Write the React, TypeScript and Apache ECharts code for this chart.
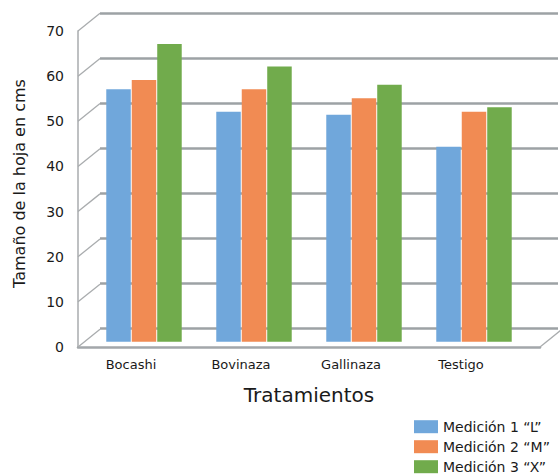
import React, { useEffect, useRef } from "react";
import * as echarts from "echarts";

const categories = ["Bocashi", "Bovinaza", "Gallinaza", "Testigo"];
const seriesNames = ["Medición 1 “L”", "Medición 2 “M”", "Medición 3 “X”"];
const medicion1 = [56, 51, 50.3, 43.2];
const medicion2 = [58, 56, 54, 51];
const medicion3 = [66, 61, 57, 52];
const yTicks = [0, 10, 20, 30, 40, 50, 60, 70];
const colors = ["#70a7db", "#f18b53", "#71ab4c"];

const FONT = "DejaVu Sans";
const DEPTH_X = 22;
const DEPTH_Y = -17.7;

export default function App() {
  const ref = useRef<HTMLDivElement>(null);
  useEffect(() => {
    if (!ref.current) return;
    const chart = echarts.init(ref.current, undefined, { renderer: "svg" });
    const values = [medicion1, medicion2, medicion3];
    const option: any = {
      animation: false,
      backgroundColor: "#ffffff",
      textStyle: { fontFamily: FONT },
      grid: [
        { left: 100, top: 13.3, width: 458, height: 315 },
        { left: 78, top: 31, width: 462, height: 316 },
        { left: 89, top: 26, width: 440, height: 315.7 },
        { left: 76, top: 31, width: 440, height: 316 },
      ],
      xAxis: [
        { gridIndex: 0, type: "category", data: categories, show: false },
        {
          gridIndex: 1,
          type: "category",
          data: categories,
          axisLine: { show: true, lineStyle: { color: "#a3a7aa", width: 2.5 } },
          axisTick: { show: false },
          axisLabel: { show: false },
          name: "Tratamientos",
          nameLocation: "middle",
          nameGap: 38,
          nameTextStyle: { fontFamily: FONT, fontSize: 20, color: "#1a1a1a" },
        },
        { gridIndex: 2, type: "category", data: categories, show: false },
        {
          gridIndex: 3,
          type: "category",
          data: categories,
          axisLine: { show: false },
          axisTick: { show: false },
          axisLabel: { fontFamily: FONT, fontSize: 13, color: "#1a1a1a", margin: 11 },
        },
      ],
      yAxis: [
        {
          gridIndex: 0,
          type: "value",
          min: 0,
          max: 70,
          interval: 10,
          axisLine: { show: false },
          axisTick: { show: false },
          axisLabel: { show: false },
          splitLine: { show: true, lineStyle: { color: "#9da2a5", width: 2.5 } },
        },
        {
          gridIndex: 1,
          type: "value",
          min: 0,
          max: 70,
          interval: 10,
          axisLine: { show: true, lineStyle: { color: "#a8abae", width: 1.5 } },
          axisTick: { show: false },
          splitLine: { show: false },
          axisLabel: { fontFamily: FONT, fontSize: 14, color: "#1a1a1a", margin: 14 },
        },
        { gridIndex: 2, type: "value", min: 0, max: 70, interval: 10, show: false },
        { gridIndex: 3, type: "value", min: 0, max: 70, interval: 10, show: false },
      ],
      legend: {
        orient: "vertical",
        left: 414,
        top: 419.7,
        height: 60,
        padding: 0,
        itemWidth: 24,
        itemHeight: 13,
        itemGap: 6,
        icon: "rect",
        data: seriesNames,
        textStyle: { fontFamily: FONT, fontSize: 14, color: "#1a1a1a", lineHeight: 14 },
      },
      graphic: [
        {
          type: "text",
          x: 19,
          y: 183.5,
          rotation: Math.PI / 2,
          style: {
            text: "Tamaño de la hoja en cms",
            fontFamily: FONT,
            fontSize: 16,
            fill: "#1a1a1a",
            align: "center",
            verticalAlign: "middle",
          },
        },
      ],
      series: [
        {
          type: "custom",
          xAxisIndex: 1,
          yAxisIndex: 1,
          silent: true,
          data: yTicks.map((v) => [0, v]),
          renderItem: (params: any, api: any) => {
            const v = api.value(1);
            const p = api.coord([0, v]);
            const cs = params.coordSys;
            const style = { stroke: "#a9acae", lineWidth: 1.3 };
            const children: any[] = [
              {
                type: "line",
                shape: { x1: cs.x, y1: p[1], x2: cs.x + DEPTH_X, y2: p[1] + DEPTH_Y },
                style,
              },
            ];
            if (v === 0) {
              children.push({
                type: "line",
                shape: {
                  x1: cs.x + cs.width,
                  y1: p[1],
                  x2: cs.x + cs.width + DEPTH_X,
                  y2: p[1] + DEPTH_Y,
                },
                style,
              });
            }
            return { type: "group", children };
          },
        },
        ...seriesNames.map((name, i) => ({
          name,
          type: "bar",
          xAxisIndex: 2,
          yAxisIndex: 2,
          data: values[i],
          barWidth: 24.5,
          barGap: "4%",
          itemStyle: { color: colors[i] },
        })),
      ],
    };
    chart.setOption(option);
    return () => chart.dispose();
  }, []);
  return (
    <div
      ref={ref}
      style={{ position: "fixed", left: 0, top: 0, width: 560, height: 475 }}
    />
  );
}
